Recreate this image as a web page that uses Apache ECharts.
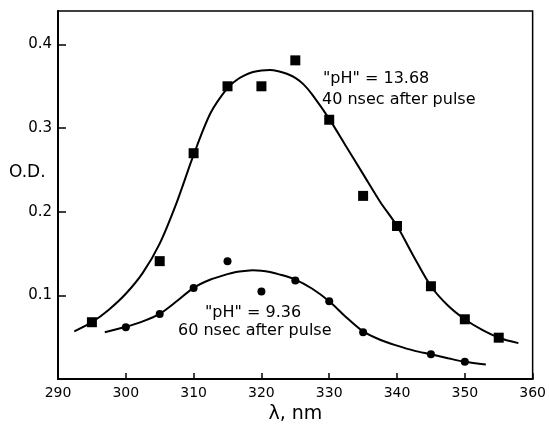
<!DOCTYPE html>
<html><head><meta charset="utf-8">
<script src="https://cdn.jsdelivr.net/npm/echarts@6/dist/echarts.min.js"></script>
<style>html,body{margin:0;padding:0;background:#fff}#c{width:549px;height:429px}</style>
</head><body><div id="c"></div>
<script>
const xTicks = [290, 300, 310, 320, 330, 340, 350, 360];
const yTicks = [0.1, 0.2, 0.3, 0.4];
// pH 13.68, 40 nsec after pulse (squares)
const squaresX = [295, 305, 310, 315, 320, 325, 330, 335, 340, 345, 350, 355];
const squaresY = [0.068, 0.141, 0.270, 0.350, 0.350, 0.381, 0.310, 0.219, 0.183, 0.111, 0.0715, 0.0495];
// pH 9.36, 60 nsec after pulse (circles)
const circlesX = [300, 305, 310, 315, 320, 325, 330, 335, 345, 350];
const circlesY = [0.062, 0.0777, 0.109, 0.141, 0.1047, 0.118, 0.093, 0.056, 0.0296, 0.0207];
// fitted curves
const fit1X = [292.4, 295, 297.5, 300, 302.5, 305, 307.5, 310, 312.5, 315, 316.25, 317.5, 318.75, 320, 321.25, 322.5, 323.75, 325, 326.25, 327.5, 330, 332.5, 335, 337.5, 340, 342.5, 345, 347.5, 350, 352.5, 355, 357.9];
const fit1Y = [0.057, 0.068, 0.083, 0.102, 0.127, 0.162, 0.211, 0.268, 0.318, 0.348, 0.357, 0.363, 0.367, 0.369, 0.3695, 0.368, 0.365, 0.360, 0.352, 0.340, 0.311, 0.278, 0.245, 0.212, 0.183, 0.146, 0.111, 0.088, 0.0715, 0.059, 0.0495, 0.043];
const fit2X = [296.9, 300, 302.5, 305, 307.5, 310, 312.5, 315, 316.25, 317.5, 318.75, 320, 321.25, 322.5, 325, 327.5, 330, 332.5, 335, 337.5, 340, 342.5, 345, 347.5, 350, 353.1];
const fit2Y = [0.056, 0.0625, 0.069, 0.078, 0.093, 0.109, 0.119, 0.1255, 0.128, 0.1293, 0.130, 0.1295, 0.128, 0.1255, 0.119, 0.108, 0.093, 0.074, 0.057, 0.047, 0.040, 0.034, 0.0296, 0.025, 0.0207, 0.0175];
const label1 = ['"pH" = 13.68', '40 nsec after pulse'];
const label2 = ['"pH" = 9.36', '60 nsec after pulse'];

const zip = (a, b) => a.map((v, i) => [v, b[i]]);
const FONT = 'DejaVu Sans';
const TXT = '16px "DejaVu Sans"';
const chart = echarts.init(document.getElementById('c'));
chart.setOption({
  animation: false,
  backgroundColor: '#fff',
  grid: { left: 58, right: 16, top: 11, bottom: 45, show: true, borderColor: '#000', borderWidth: 1.5 },
  xAxis: {
    type: 'value', min: 290, max: 360, interval: 10,
    axisLine: { lineStyle: { color: '#000', width: 2 } },
    axisTick: { inside: true, length: 6, lineStyle: { color: '#000', width: 1.5 } },
    axisLabel: { color: '#000', fontFamily: FONT, fontSize: 14, margin: 7,
      formatter: v => xTicks.includes(v) ? String(v) : '' },
    splitLine: { show: false },
    name: 'λ, nm', nameLocation: 'middle', nameGap: 24,
    nameTextStyle: { color: '#000', fontFamily: FONT, fontSize: 19 }
  },
  yAxis: {
    type: 'value', min: 0, max: 0.44, interval: 0.1,
    axisLine: { lineStyle: { color: '#000', width: 2 } },
    axisTick: { inside: true, length: 8, lineStyle: { color: '#000', width: 1.5 } },
    axisLabel: { color: '#000', fontFamily: FONT, fontSize: 15, margin: 6, showMaxLabel: false,
      formatter: v => { const t = yTicks.find(y => Math.abs(y - v) < 1e-9); return t === undefined ? '' : String(t); } },
    splitLine: { show: false }
  },
  graphic: [
    { type: 'text', left: 9, top: 164, style: { text: 'O.D.', font: '17px "DejaVu Sans"', fill: '#000' } },
    { type: 'text', left: 323, top: 71, style: { text: label1[0], font: TXT, fill: '#000' } },
    { type: 'text', left: 322, top: 92, style: { text: label1[1], font: TXT, fill: '#000' } },
    { type: 'text', left: 205, top: 305, style: { text: label2[0], font: TXT, fill: '#000' } },
    { type: 'text', left: 178, top: 323, style: { text: label2[1], font: TXT, fill: '#000' } }
  ],
  series: [
    { type: 'line', data: zip(fit1X, fit1Y), smooth: 0.3, showSymbol: false, lineStyle: { color: '#000', width: 2 }, z: 2 },
    { type: 'line', data: zip(fit2X, fit2Y), smooth: 0.3, showSymbol: false, lineStyle: { color: '#000', width: 2 }, z: 2 },
    { type: 'scatter', data: zip(squaresX, squaresY), symbol: 'rect', symbolSize: 10, itemStyle: { color: '#000', opacity: 1 }, z: 3 },
    { type: 'scatter', data: zip(circlesX, circlesY), symbol: 'circle', symbolSize: 8, itemStyle: { color: '#000', opacity: 1 }, z: 3 }
  ]
});
</script></body></html>
